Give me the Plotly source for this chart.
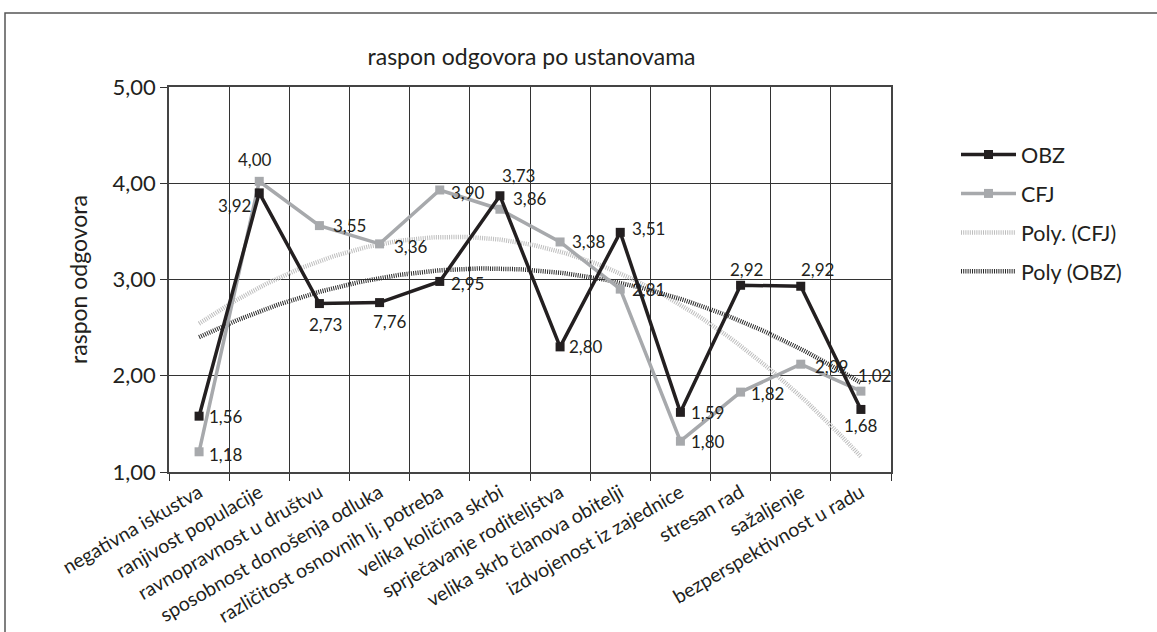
import numpy as np
import plotly.graph_objects as go

categories = [
    "negativna iskustva", "ranjivost populacije", "ravnopravnost u društvu",
    "sposobnost donošenja odluka", "različitost osnovnih lj. potreba",
    "velika količina skrbi", "sprječavanje roditeljstva",
    "velika skrb članova obitelji", "izdvojenost iz zajednice",
    "stresan rad", "sažaljenje", "bezperspektivnost u radu",
]
obz_values = [1.58, 3.90, 2.75, 2.76, 2.98, 3.87, 2.30, 3.49, 1.62, 2.94, 2.93, 1.65]
cfj_values = [1.21, 4.02, 3.56, 3.37, 3.93, 3.73, 3.39, 2.90, 1.32, 1.83, 2.12, 1.84]
obz_labels = ["1,56", "3,92", "2,73", "7,76", "2,95", "3,86", "2,80", "3,51", "1,59", "2,92", "2,92", "1,68"]
cfj_labels = ["1,18", "4,00", "3,55", "3,36", "3,90", "3,73", "3,38", "2,81", "1,80", "1,82", "2,09", "1,02"]
y_ticks = [1, 2, 3, 4, 5]

# label offsets in pixels (dx right, dy down)
obz_offsets = [(27, 0), (-25, 13), (6, 21), (10, 19), (28, 2), (30, 3),
               (26, 0), (28, -4), (27, 0), (6, -16), (17, -17), (0, 16)]
cfj_offsets = [(27, 3), (-4, -22), (30, 0), (31, 3), (28, 3), (19, -34),
               (29, 0), (28, 0), (28, 0), (27, 1), (31, 2), (14, -16)]

FONT = "Lato"
xs = np.arange(1, len(categories) + 1)
xd = np.linspace(1, len(categories), 200)
cfj_fit = np.polyval(np.polyfit(xs, cfj_values, 2), xd)
obz_fit = np.polyval(np.polyfit(xs, obz_values, 2), xd)

fig = go.Figure()
fig.add_trace(go.Scatter(x=xd, y=cfj_fit, mode="lines", name="Poly. (CFJ)",
                         line=dict(color="#bdbdbd", width=4.5, dash="1px,1.2px"),
                         legendrank=3, legendgroup="c", hoverinfo="skip"))
fig.add_trace(go.Scatter(x=xd, y=obz_fit, mode="lines", name="Poly (OBZ)",
                         line=dict(color="#2a2a2a", width=4.5, dash="1px,1.2px"),
                         legendrank=4, legendgroup="d", hoverinfo="skip"))
fig.add_trace(go.Scatter(x=xs, y=cfj_values, mode="lines+markers", name="CFJ",
                         line=dict(color="#a7a9ac", width=3.5),
                         marker=dict(symbol="square", size=9, color="#a7a9ac"),
                         legendrank=2, legendgroup="b"))
fig.add_trace(go.Scatter(x=xs, y=obz_values, mode="lines+markers", name="OBZ",
                         line=dict(color="#231f20", width=3.5),
                         marker=dict(symbol="square", size=9, color="#231f20"),
                         legendrank=1, legendgroup="a"))

annotations = []
for vals, labs, offs in ((obz_values, obz_labels, obz_offsets), (cfj_values, cfj_labels, cfj_offsets)):
    for i, (v, t, (dx, dy)) in enumerate(zip(vals, labs, offs)):
        annotations.append(dict(x=xs[i], y=v, text=t, showarrow=False, xref="x", yref="y",
                                xshift=dx, yshift=-dy,
                                font=dict(family=FONT, size=17, color="#231f20")))

L, R, T, B = 169, 266, 87, 160
W, H = 1157, 632
pw, ph = W - L - R, H - T - B
def px(x):
    return (x - L) / pw
def py(y):
    return (H - B - y) / ph

fig.update_layout(
    width=W, height=H,
    margin=dict(l=L, r=R, t=T, b=B, autoexpand=False),
    paper_bgcolor="white", plot_bgcolor="white",
    separators=",.",
    font=dict(family=FONT, color="#231f20"),
    title=dict(text="raspon odgovora po ustanovama", x=px(531.5), xref="paper",
               y=1 - 57 / H, yref="container", xanchor="center", yanchor="middle",
               font=dict(family=FONT, size=23, color="#231f20")),
    showlegend=True,
    legend=dict(x=px(956), y=py(134), xanchor="left", yanchor="top",
                font=dict(family=FONT, size=21.5, color="#231f20"),
                itemwidth=55, tracegroupgap=8, bgcolor="rgba(0,0,0,0)",
                traceorder="grouped"),
    annotations=annotations,
    shapes=[dict(type="rect", xref="paper", yref="paper",
                 x0=px(5), x1=px(1170), y0=py(645), y1=py(13),
                 line=dict(color="#555555", width=1.5), layer="below")],
)
fig.update_xaxes(
    range=[0.5, len(categories) + 0.5], automargin=False,
    tickmode="array", tickvals=list(xs), ticktext=categories, tickangle=-30,
    ticks="", showgrid=False,
    tickfont=dict(family=FONT, size=19.5, color="#231f20"),
    minor=dict(tick0=0.5, dtick=1, showgrid=True, gridcolor="#333333", gridwidth=1.2,
               ticks="outside", ticklen=7, tickcolor="#333333"),
    showline=True, linecolor="#444444", linewidth=1.5, mirror=True,
    zeroline=False,
)
fig.update_yaxes(
    range=[1, 5], tickvals=y_ticks, tickformat=".2f", automargin=False,
    ticks="outside", ticklen=7, tickcolor="#333333",
    showgrid=True, gridcolor="#333333", gridwidth=1.2,
    tickfont=dict(family=FONT, size=22, color="#231f20"),
    title=dict(text="raspon odgovora", standoff=19,
               font=dict(family=FONT, size=23, color="#231f20")),
    showline=True, linecolor="#444444", linewidth=1.5, mirror=True,
    zeroline=False,
)
fig.write_html("out.html", post_script="document.body.style.margin='0px';",
               config={"displayModeBar": False})
